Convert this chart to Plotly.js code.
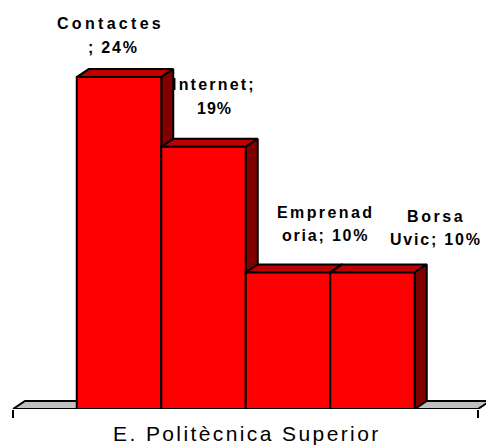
<!DOCTYPE html>
<html>
<head>
<meta charset="utf-8">
<script src="https://cdn.plot.ly/plotly-3.0.1.min.js"></script>
<style>html,body{margin:0;padding:0;background:#fff}#chart{width:486px;height:446px}</style>
</head>
<body>
<div id="chart"></div>
<script>
const categories = ["Contactes", "Internet", "Emprenadoria", "Borsa Uvic"];
const values = [24.05, 19, 9.9, 9.9];
const seriesName = "E. Politècnica Superior";
const labelLines = [
  ["Contactes", "; 24%"],
  ["Internet;", "19%"],
  ["Emprenad", "oria; 10%"],
  ["Borsa", "Uvic; 10%"]
];

const W = 486, H = 446;
const left = 13, floorRight = 478, base = 409;
const barPx = 84.5, firstCentre = 119, unitPx = 13.8;
const depthX = 12 / barPx, depthY = 8 / unitPx;
const pxX = p => (p - firstCentre) / barPx;
const pxY = p => (base - p) / unitPx;
const xRange = [pxX(0), pxX(W)];
const yRange = [0, base / unitPx];
const ends = [pxX(left), pxX(floorRight)];
const ink = {color: "#000", width: 2};

function poly(xs, ys, fill) {
  return {type: "scatter", mode: "lines", x: xs.concat(xs[0]), y: ys.concat(ys[0]),
    fill: "toself", fillcolor: fill, line: ink, cliponaxis: false,
    hoverinfo: "skip", showlegend: false, xaxis: "x", yaxis: "y"};
}

const traces = [poly(
  [ends[0], ends[1], ends[1] + depthX, ends[0] + depthX],
  [0, 0, depthY, depthY], "#C0C0C0")];

values.forEach((v, i) => {
  const a = i - 0.5, b = i + 0.5;
  traces.push(poly([a, b, b + depthX, a + depthX], [v, v, v + depthY, v + depthY], "#BF0000"));
  traces.push(poly([b, b + depthX, b + depthX, b], [0, depthY, v + depthY, v], "#800000"));
});

traces.push({
  type: "bar", x: categories.map((_, i) => i), y: values, width: 1,
  text: categories, textposition: "none", hoverinfo: "text+y",
  marker: {color: "#FF0000", line: ink},
  showlegend: false, xaxis: "x2", yaxis: "y2"
});

const labelPos = [
  [[110.5, 23, 3.3], [113, 47, 1.8]],
  [[213.5, 84, 2.2], [214, 108, 1]],
  [[325, 212, 2.4], [325, 235, 1.8]],
  [[436, 216, 2.6], [436, 239, 1.8]]
];
const annotations = [];
labelLines.forEach((lines, i) => lines.forEach((t, j) => {
  const [px, py, sp] = labelPos[i][j];
  annotations.push({
    x: pxX(px), y: pxY(py), xref: "x", yref: "y", showarrow: false,
    xanchor: "center", yanchor: "middle",
    text: `<span style="letter-spacing:${sp}px">${t}</span>`,
    font: {family: "Liberation Sans", size: 16, color: "#000", weight: 700}
  });
}));
annotations.push({
  x: 247 / W, y: (base - 434) / base, xref: "paper", yref: "paper", showarrow: false,
  xanchor: "center", yanchor: "middle",
  text: `<span style="letter-spacing:2.4px">${seriesName}</span>`,
  font: {family: "Liberation Sans", size: 21, color: "#000"}
});

const layout = {
  width: W, height: H, paper_bgcolor: "#fff", plot_bgcolor: "#fff",
  margin: {l: 0, r: 0, t: 0, b: H - base, pad: 0},
  showlegend: false, annotations,
  xaxis: {
    range: xRange, showgrid: false, zeroline: false, showline: false,
    tickvals: ends, ticktext: ["", ""], ticks: "outside", ticklen: 8, tickwidth: 2, tickcolor: "#000"
  },
  yaxis: {range: yRange, visible: false, fixedrange: true},
  xaxis2: {range: xRange, overlaying: "x", visible: false},
  yaxis2: {range: yRange, overlaying: "y", visible: false}
};

Plotly.newPlot("chart", traces, layout, {displayModeBar: false, staticPlot: true});
</script>
</body>
</html>
